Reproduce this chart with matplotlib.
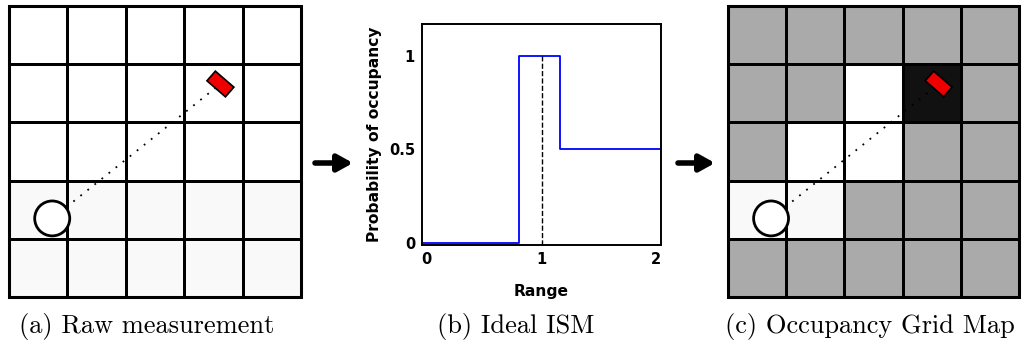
import matplotlib
matplotlib.use('Agg')
import matplotlib.pyplot as plt
import matplotlib.patches as patches
import numpy as np

# grey level of each cell (row 0 = bottom), 1 = white, 0 = black
raw_cells = [
    [0.973, 0.973, 0.973, 0.973, 0.973],
    [0.973, 0.973, 0.973, 0.973, 0.973],
    [1.0, 1.0, 1.0, 1.0, 1.0],
    [1.0, 1.0, 1.0, 1.0, 1.0],
    [1.0, 1.0, 1.0, 1.0, 1.0],
]
ogm_cells = [
    [0.667, 0.667, 0.667, 0.667, 0.667],
    [0.973, 0.973, 0.667, 0.667, 0.667],
    [0.667, 1.0, 1.0, 0.667, 0.667],
    [0.667, 0.667, 1.0, 0.067, 0.667],
    [0.667, 0.667, 0.667, 0.667, 0.667],
]
robot_xy = (0.74, 1.35)
robot_radius = 0.30
obstacle_xy = (3.62, 3.66)
obstacle_size = (0.42, 0.22)
obstacle_angle = -41

# ideal inverse sensor model
ism_range = [-0.05, 0.80, 0.80, 1.16, 1.16, 2.2]
ism_prob = [0.0, 0.0, 1.0, 1.0, 0.5, 0.5]
meas_range = 1.0

captions = ['(a) Raw measurement', '(b) Ideal ISM', '(c) Occupancy Grid Map']

W, H = 1025, 350
fig = plt.figure(figsize=(W / 100, H / 100), dpi=100)


def px_axes(left, top, w, h):
    return fig.add_axes([left / W, (H - top - h) / H, w / W, h / H])


def grid_panel(ax, cells):
    cells = np.array(cells)
    ax.pcolormesh(np.arange(6), np.arange(6), cells, cmap='gray', vmin=0, vmax=1,
                  edgecolors='black', linewidth=1.9)
    ax.set_xlim(0, 5)
    ax.set_ylim(0, 5)
    ax.set_aspect('auto')
    ax.axis('off')
    ax.plot([robot_xy[0], obstacle_xy[0]], [robot_xy[1], obstacle_xy[1]],
            color='black', linestyle=(0, (1, 4)), lw=1.3, zorder=3)
    ax.add_patch(patches.Circle(robot_xy, robot_radius, facecolor='white',
                                edgecolor='black', lw=2.0, zorder=4))
    ax.add_patch(patches.Rectangle((obstacle_xy[0] - obstacle_size[0] / 2,
                                    obstacle_xy[1] - obstacle_size[1] / 2),
                                   obstacle_size[0], obstacle_size[1],
                                   angle=obstacle_angle, rotation_point='center',
                                   facecolor='#ee0000', edgecolor='black', lw=1.2, zorder=4))
    # outer frame
    ax.add_patch(patches.Rectangle((0, 0), 5, 5, fill=False, edgecolor='black',
                                   lw=2.2, clip_on=False, zorder=5))


ax_a = px_axes(9, 6, 292, 291)
grid_panel(ax_a, raw_cells)

ax_c = px_axes(728, 6, 291, 291)
grid_panel(ax_c, ogm_cells)

ax_b = px_axes(422, 24, 239, 221)
ax_b.plot(ism_range, ism_prob, color='blue', lw=1.3)
ax_b.axvline(meas_range, ymin=0, ymax=(1.0 + 0.01) / 1.18, color='black', ls='--', lw=1.0)
ax_b.set_xlim(-0.04, 2.04)
ax_b.set_ylim(-0.01, 1.17)
ax_b.set_xticks([0, 1, 2])
ax_b.set_xticklabels(['0', '1', '2'])
ax_b.set_yticks([0, 0.5, 1])
ax_b.set_yticklabels(['0', '0.5', '1'])
ax_b.tick_params(length=0, labelsize=10.5, pad=5)
for lab in ax_b.get_xticklabels() + ax_b.get_yticklabels():
    lab.set_fontweight('bold')
for sp in ax_b.spines.values():
    sp.set_linewidth(1.4)
ax_b.set_xlabel('Range', fontweight='bold', fontsize=11.2, labelpad=12)
ax_b.set_ylabel('Probability of occupancy', fontweight='bold', fontsize=11.2, labelpad=5)

# arrows between panels
for x0, x1 in [(315, 353), (678, 715)]:
    fig.add_artist(patches.FancyArrowPatch((x0, H - 163), (x1, H - 163),
                                           transform=None, arrowstyle='-|>,head_width=5,head_length=9',
                                           lw=4, color='black', shrinkA=0, shrinkB=0,
                                           mutation_scale=1))

for cx, text in zip([147, 516, 870], captions):
    fig.text(cx / W, 24 / H, text, ha='center', va='center', fontsize=19,
             family='cmr10')

fig.savefig('out.png', dpi=100)
